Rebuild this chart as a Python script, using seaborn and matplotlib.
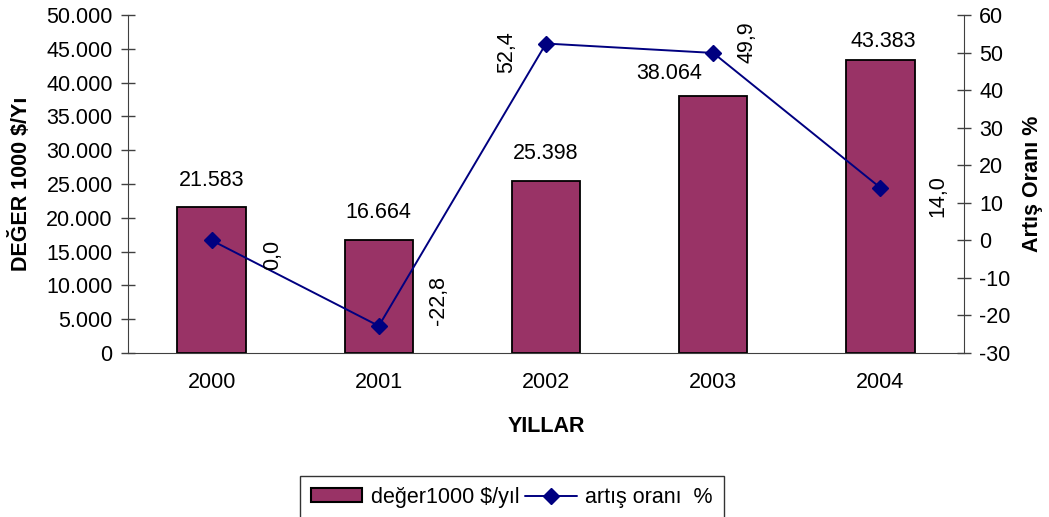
import numpy as np
import pandas as pd
import matplotlib
matplotlib.use("Agg")
import matplotlib.pyplot as plt
import matplotlib.ticker as mticker
from matplotlib.patches import Patch
from matplotlib.lines import Line2D
import seaborn as sns

# --- data ---
years = ["2000", "2001", "2002", "2003", "2004"]
values = [21583, 16664, 25398, 38064, 43383]
rates = [0.0, -22.8, 52.4, 49.9, 14.0]

bar_color = "#993366"
line_color = "#000080"
FS = 15.5

sns.set_style("white")
plt.rcParams["font.family"] = ["Liberation Sans", "DejaVu Sans"]
plt.rcParams["font.size"] = FS
plt.rcParams["axes.unicode_minus"] = False
plt.rcParams["text.color"] = "black"
plt.rcParams["axes.labelcolor"] = "black"
plt.rcParams["xtick.labelcolor"] = "black"
plt.rcParams["ytick.labelcolor"] = "black"

df = pd.DataFrame({"yil": years, "deger": values, "oran": rates})

fig = plt.figure(figsize=(10.49, 5.17), dpi=100)
ax = fig.add_axes([128 / 1049, 1 - 353 / 517, (964 - 128) / 1049, (353 - 15) / 517])

sns.barplot(data=df, x="yil", y="deger", ax=ax, color=bar_color, saturation=1,
            width=0.41, edgecolor="black", linewidth=1.3)
ax.set_ylim(0, 50000)
ax.set_xlim(-0.5, 4.5)
ax.yaxis.set_major_locator(mticker.MultipleLocator(5000))
ax.yaxis.set_major_formatter(mticker.FuncFormatter(lambda v, p: f"{int(v):,}".replace(",", ".")))

# bar labels (Excel-like placement)
bar_off = [(0, 27), (0, 28), (0, 28), (-44, 22), (3, 18)]
for i, (v, off) in enumerate(zip(values, bar_off)):
    ax.annotate(f"{v:,}".replace(",", "."), (i, v), xytext=off, textcoords="offset pixels",
                ha="center", va="center", fontsize=FS)

ax2 = ax.twinx()
ax2.plot(np.arange(len(years)), rates, color=line_color, marker="D", markersize=8, linewidth=1.4)
ax2.set_ylim(-30, 60)
ax2.set_xlim(-0.5, 4.5)
ax2.yaxis.set_major_locator(mticker.MultipleLocator(10))

# line labels (rotated, Excel-like placement)
line_off = [(61, -15), (60, 25), (-39, -9), (34, 11), (57, -8)]
for i, (r, off) in enumerate(zip(rates, line_off)):
    ax2.annotate(f"{r:.1f}".replace(".", ","), (i, r), xytext=off, textcoords="offset pixels",
                 ha="center", va="center", rotation=90, fontsize=FS)

# spines and ticks
spine_col = "#404040"
for a in (ax, ax2):
    a.spines["top"].set_visible(False)
    for s in ("left", "right", "bottom"):
        a.spines[s].set_color(spine_col)
ax.spines["right"].set_visible(False)
ax2.spines["left"].set_visible(False)
ax2.spines["bottom"].set_visible(False)

ax.tick_params(axis="y", direction="inout", length=10, width=1, color=spine_col, labelsize=FS, pad=6)
ax2.tick_params(axis="y", direction="inout", length=10, width=1, color=spine_col, labelsize=FS, pad=6)
ax.set_xticks(np.arange(len(years)))
ax.set_xticklabels(years)
ax.tick_params(axis="x", which="major", length=0, labelsize=FS, pad=14)
ax.set_xticks(np.arange(-0.5, 5, 1.0), minor=True)
ax.tick_params(axis="x", which="minor", direction="inout", length=11, width=1, color=spine_col)

ax.set_xlabel("YILLAR", fontweight="bold", fontsize=FS, labelpad=16)
ax.set_ylabel("DEĞER 1000 $/Yı", fontweight="bold", fontsize=FS, labelpad=10)
ax2.set_ylabel("Artış Oranı %", fontweight="bold", fontsize=FS, labelpad=8)

handles = [
    Patch(facecolor=bar_color, edgecolor="black", linewidth=1.5),
    Line2D([0], [0], color=line_color, marker="D", markersize=8, linewidth=1.4),
]
leg = fig.legend(handles, ["değer1000 $/yıl", "artış oranı  %"], loc="upper left",
                 bbox_to_anchor=(300 / 1049, 1 - 476 / 517), ncol=2, frameon=True,
                 fancybox=False, edgecolor="black", fontsize=FS, handlelength=2.4,
                 handleheight=0.6, columnspacing=0.25, handletextpad=0.4,
                 borderpad=0.5, borderaxespad=0)
leg.get_frame().set_linewidth(1)

fig.savefig("out.png", dpi=100)
